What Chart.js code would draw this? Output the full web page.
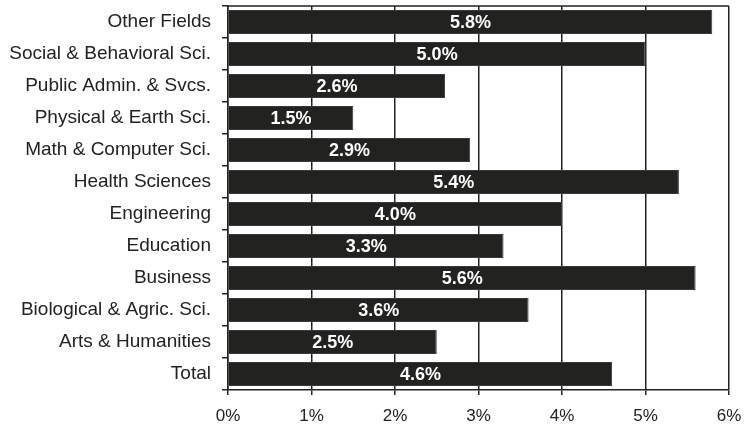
<!DOCTYPE html>
<html>
<head>
<meta charset="utf-8">
<script src="https://cdn.jsdelivr.net/npm/chart.js@4/dist/chart.umd.min.js"></script>
<style>
  html, body { margin: 0; padding: 0; background: #fff; }
  #wrap { width: 744px; height: 425px; }
</style>
</head>
<body>
<div id="wrap"><canvas id="c" width="744" height="425"></canvas></div>
<script>
const fields = [
  'Other Fields',
  'Social & Behavioral Sci.',
  'Public Admin. & Svcs.',
  'Physical & Earth Sci.',
  'Math & Computer Sci.',
  'Health Sciences',
  'Engineering',
  'Education',
  'Business',
  'Biological & Agric. Sci.',
  'Arts & Humanities',
  'Total'
];
const shares = [5.8, 5.0, 2.6, 1.5, 2.9, 5.4, 4.0, 3.3, 5.6, 3.6, 2.5, 4.6];
const xTicks = [0, 1, 2, 3, 4, 5, 6];

const FONT = '"Liberation Sans", Arial, sans-serif';

// Writes each bar's value in white at the middle of the bar, and frames the plot area
const barText = {
  id: 'barText',
  afterDatasetsDraw(chart) {
    const ctx = chart.ctx;
    const meta = chart.getDatasetMeta(0);
    ctx.save();
    ctx.fillStyle = '#ffffff';
    ctx.font = 'bold 18px ' + FONT;
    ctx.textAlign = 'center';
    ctx.textBaseline = 'middle';
    meta.data.forEach((bar, i) => {
      const cx = (bar.x + bar.base) / 2;
      ctx.fillText(shares[i].toFixed(1) + '%', cx, bar.y + 1);
    });
    const a = chart.chartArea;
    ctx.strokeStyle = '#222';
    ctx.lineWidth = 1.5;
    ctx.beginPath();
    ctx.moveTo(a.left, a.top);
    ctx.lineTo(a.right, a.top);
    ctx.stroke();
    ctx.restore();
  }
};

new Chart(document.getElementById('c'), {
  type: 'bar',
  data: {
    labels: fields,
    datasets: [{
      data: shares,
      backgroundColor: '#222320',
      borderColor: '#3a3a38',
      borderWidth: 1,
      barPercentage: 0.75,
      categoryPercentage: 1.0
    }]
  },
  options: {
    indexAxis: 'y',
    responsive: false,
    animation: false,
    layout: { padding: { left: 0, right: 15, top: 6, bottom: 1 } },
    plugins: {
      legend: { display: false },
      tooltip: { enabled: false }
    },
    scales: {
      x: {
        min: 0,
        max: 6,
        afterBuildTicks(scale) {
          scale.ticks = xTicks.map(v => ({ value: v }));
        },
        afterFit(scale) {
          scale.height = 34;
          scale.paddingLeft = 0;
          scale.paddingRight = 0;
        },
        ticks: {
          color: '#222',
          font: { family: FONT, size: 17 },
          padding: 11,
          callback: v => v + '%'
        },
        grid: {
          color: '#222',
          lineWidth: 1.5,
          tickLength: 5,
          drawOnChartArea: true
        },
        border: { color: '#222', width: 1.5 }
      },
      y: {
        offset: true,
        afterFit(scale) {
          scale.width = 228;
          scale.paddingTop = 0;
          scale.paddingBottom = 0;
        },
        ticks: {
          color: '#222',
          font: { family: FONT, size: 19 },
          padding: 11
        },
        grid: {
          offset: true,
          drawOnChartArea: false,
          color: '#222',
          lineWidth: 1.5,
          tickLength: 6
        },
        border: { color: '#222', width: 1.5 }
      }
    }
  },
  plugins: [barText]
});
</script>
</body>
</html>
